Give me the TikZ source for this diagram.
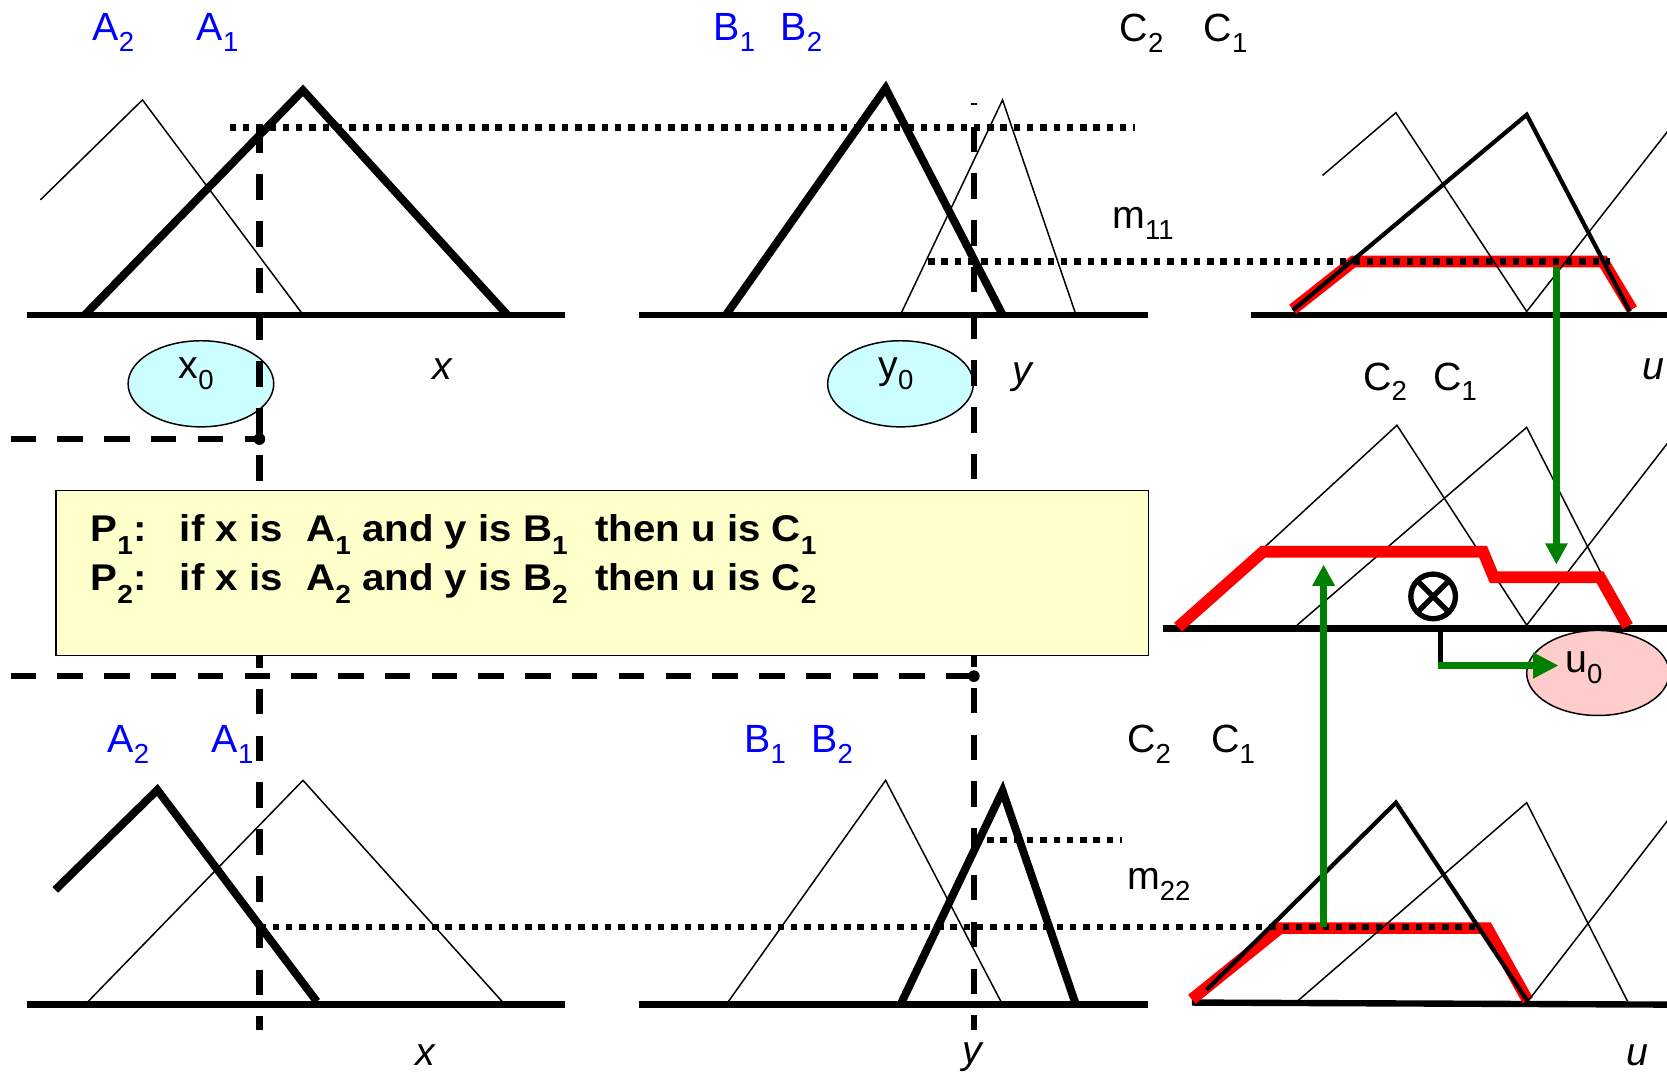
\documentclass[tikz,border=0pt]{standalone}
\usepackage{fontspec}
\setmainfont{Liberation Sans}
\usetikzlibrary{arrows.meta,shapes.geometric}
\definecolor{cyanfill}{HTML}{CCFFFF}
\definecolor{pinkfill}{HTML}{FFCCCC}
\definecolor{boxfill}{HTML}{FFFFCC}
\definecolor{arrowgreen}{HTML}{008000}
\definecolor{setblue}{HTML}{0000FF}
\newcommand{\lsub}[1]{\raisebox{-0.27em}{\scalebox{0.7}{#1}}}
\newcommand{\rsub}[1]{\raisebox{-0.36em}{\scalebox{0.7}{#1}}}
\newcommand{\rtext}[1]{\scalebox{1.08}[1]{#1}}
\begin{document}
\begin{tikzpicture}[x=1pt,y=-1pt,
  axisline/.style={line width=6pt},
  thickmf/.style={line width=7.5pt,line join=miter},
  medmf/.style={line width=4pt},
  thinmf/.style={line width=1.4pt},
  redcut/.style={red,line width=11pt,line join=miter},
  dotline/.style={line width=6pt,dash pattern=on 6pt off 6.5pt},
  dashline/.style={line width=6pt,dash pattern=on 24pt off 20pt},
  garrow/.style={arrowgreen,line width=6pt,-{Triangle[length=20pt,width=20pt]}},
  lbl/.style={font=\fontsize{37}{40}\selectfont,inner sep=0pt,anchor=base west},
  setlbl/.style={lbl,text=setblue},
  varlbl/.style={lbl,font=\fontsize{37}{40}\selectfont\itshape},
  rulelbl/.style={inner sep=0pt,anchor=base west,font=\fontsize{35}{40}\selectfont\bfseries},
  inellipse/.style={ellipse,draw,line width=1.4pt,minimum width=137pt,minimum height=81pt,inner sep=0pt},
]
\useasboundingbox (0,0) rectangle (1568,1011);
\clip (0,0) rectangle (1568,1011);

% ---------- input ellipses ----------
\node[inellipse,fill=cyanfill] (x0) at (189,361) {};
\node[inellipse,fill=cyanfill] (y0) at (847,361) {};
\node[lbl] (x0t) at (168,356) {x\lsub{0}};
\node[lbl] (y0t) at (826,356) {y\lsub{0}};

% ---------- top row ----------
\draw[axisline] (25,296) -- (531,296);
\draw[thinmf] (38,188) -- (134,94) -- (285,296);
\draw[thickmf] (80,296) -- (285,85) -- (477,296);

\draw[axisline] (601,296) -- (1080,296);
\draw[thickmf] (683,296) -- (833,83) -- (943,296);
\draw[thinmf] (847,296) -- (943,94) -- (1012,296);

\draw[axisline] (1177,296) -- (1580,296);
\draw[redcut] (1216,291) -- (1273,246) -- (1508,246) -- (1535,291);
\draw[thinmf] (1244,165) -- (1313,106) -- (1436,293) -- (1580,109);
\draw[medmf] (1216,292) -- (1436,108) -- (1533,293);

\draw[dotline] (216,120) -- (1068,120);
\draw[dotline] (873,246) -- (1514,246);

\node[setlbl] (lA2t) at (87,38) {A\lsub{2}};
\node[setlbl] (lA1t) at (185,38) {A\lsub{1}};
\node[setlbl] (lB1t) at (671,38) {B\lsub{1}};
\node[setlbl] (lB2t) at (734,38) {B\lsub{2}};
\node[lbl] (lC2t) at (1053,39) {C\lsub{2}};
\node[lbl] (lC1t) at (1132,39) {C\lsub{1}};
\node[lbl] (m11) at (1046,215) {m\lsub{11}};
\node[varlbl] (xt) at (407,357) {x};
\node[varlbl] (yt) at (952,361) {y};
\node[varlbl] (ut) at (1545,357) {u};

% ---------- middle (aggregation) ----------
\node[lbl] (lC2m) at (1282,367) {C\lsub{2}};
\node[lbl] (lC1m) at (1348,367) {C\lsub{1}};
\draw[thinmf] (1188,516) -- (1314,400) -- (1436,588) -- (1580,402);
\draw[thinmf] (1220,588) -- (1436,402) -- (1531,588);
\draw[axisline] (1094,591) -- (1580,591);
\node[inellipse,fill=pinkfill,minimum width=134pt,minimum height=80pt] (u0) at (1503,633) {};
\node[lbl] (u0t) at (1472,633) {u\lsub{0}};
\draw[redcut] (1108,590) -- (1188,519) -- (1395,519) -- (1405,543) -- (1505,543) -- (1531,589);
\node[circle,draw,line width=5pt,minimum size=42pt,inner sep=0pt] (ot) at (1348,561) {};
\draw[line width=5pt] (1333,546) -- (1363,576) (1363,546) -- (1333,576);
\coordinate (stubTop) at (1355,592);
\coordinate (stubCorner) at (1355,626);
\coordinate (u0tip) at (1466,626);
\draw[line width=4.5pt] (stubTop) -- (stubCorner);
\draw[arrowgreen,line width=6pt,-{Triangle[length=24pt,width=23pt]}] ([xshift=-2pt]stubCorner) -- (u0tip);

% ---------- bottom row ----------
\draw[axisline] (25,945) -- (531,945);
\draw[thinmf] (80,945) -- (285,734) -- (475,945);
\draw[thickmf] (52,837) -- (148,743) -- (298,942);

\draw[axisline] (601,945) -- (1080,945);
\draw[thinmf] (683,945) -- (833,734) -- (943,945);
\draw[thickmf] (847,945) -- (943,744) -- (1012,945);

\draw[axisline] (1121,943) -- (1580,945);
\draw[redcut] (1121,940) -- (1204,873) -- (1399,873) -- (1437,941);
\draw[thinmf] (1220,942) -- (1436,755) -- (1531,942);
\draw[thinmf] (1437,942) -- (1580,757);
\draw[medmf] (1135,931) -- (1313,755) -- (1437,942);

\draw[dotline] (244,872) -- (1392,872);
\draw[dotline] (916,790) -- (1055,790);

\node[setlbl] (lA2b) at (101,708) {A\lsub{2}};
\node[setlbl] (lA1b) at (199,708) {A\lsub{1}};
\node[setlbl] (lB1b) at (700,708) {B\lsub{1}};
\node[setlbl] (lB2b) at (763,708) {B\lsub{2}};
\node[lbl] (lC2b) at (1060,708) {C\lsub{2}};
\node[lbl] (lC1b) at (1139,708) {C\lsub{1}};
\node[lbl] (m22) at (1060,837) {m\lsub{22}};
\node[varlbl] (xb) at (391,1002) {x};
\node[varlbl] (yb) at (905,1000) {y};
\node[varlbl] (ub) at (1530,1002) {u};

% ---------- dashed guide lines ----------
\coordinate (dotA) at (244,413);
\coordinate (dotB) at (916,636);
\draw[dashline] (244,120) -- (244,969);
\draw[dashline,dash phase=22pt] (916,97) -- (916,969);
\draw[dashline] (10,413) -- (dotA);
\draw[dashline] (10,636) -- (dotB);
\fill (dotA) circle (5.5pt);
\fill (dotB) circle (5.5pt);

% ---------- rule box ----------
\node[draw,fill=boxfill,line width=1.2pt,minimum width=1028pt,minimum height=155pt,anchor=north west,inner sep=0pt] (rules) at (52,461) {};
\node[rulelbl] (p1a) at (85,509) {\rtext{P\rsub{1}:}};
\node[rulelbl] (p1b) at (169,509) {\rtext{if x is}};
\node[rulelbl] (p1c) at (288,509) {\rtext{A\rsub{1} and y is B\rsub{1}}};
\node[rulelbl] (p1d) at (560,509) {\rtext{then u is C\rsub{1}}};
\node[rulelbl] (p2a) at (85,555) {\rtext{P\rsub{2}:}};
\node[rulelbl] (p2b) at (169,555) {\rtext{if x is}};
\node[rulelbl] (p2c) at (288,555) {\rtext{A\rsub{2} and y is B\rsub{2}}};
\node[rulelbl] (p2d) at (560,555) {\rtext{then u is C\rsub{2}}};

% ---------- green arrows ----------
\coordinate (dTop) at (1464,251);
\coordinate (dTip) at (1464,531);
\coordinate (uBot) at (1245,872);
\coordinate (uTip) at (1245,531);
\draw[garrow] (dTop) -- (dTip);
\draw[garrow] (uBot) -- (uTip);
\end{tikzpicture}
\end{document}
